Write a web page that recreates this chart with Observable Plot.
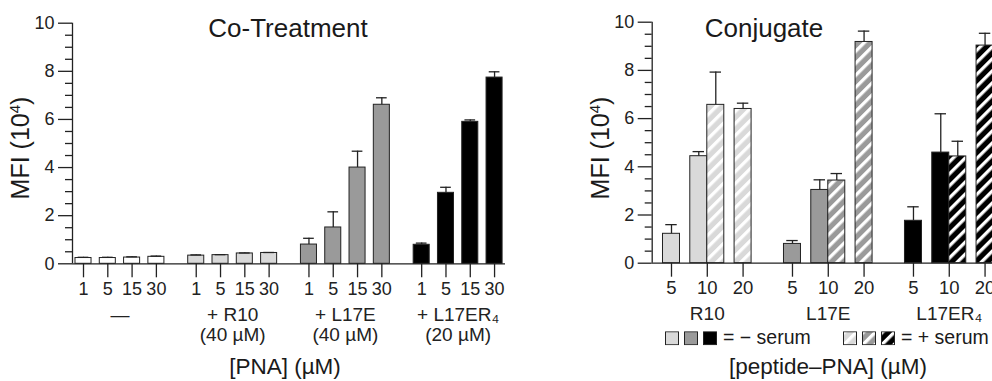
<!DOCTYPE html>
<html><head><meta charset="utf-8">
<script src="https://cdn.jsdelivr.net/npm/d3@7"></script>
<script src="https://cdn.jsdelivr.net/npm/@observablehq/plot@0.6"></script>
<style>
html,body{margin:0;padding:0;background:#fff;}
#wrap{position:relative;width:992px;height:381px;overflow:hidden;font-family:"Liberation Sans",Arial,Helvetica,sans-serif;color:#1a1a1a;}
.abs{position:absolute;white-space:nowrap;line-height:1;}
.title{font-size:26px;transform:translate(-50%,-50%);}
.xt{font-size:22.5px;transform:translate(-50%,-50%);}
.yt{font-size:25px;transform:translate(-50%,-50%) rotate(-90deg);}
.yt sup{font-size:15px;line-height:0;vertical-align:9px;}
.leg{display:flex;align-items:center;font-size:19.5px;transform:translateY(-50%);}
.leg svg{margin-right:5px;display:block;}
.leg span{margin-left:1px;}
.plot{position:absolute;top:0;}
</style>
</head><body>
<div id="wrap"></div>
<script>
// ---------- data: Co-Treatment ----------
const coGroups = ["—", "+ R10\n(40 µM)", "+ L17E\n(40 µM)", "+ L17ER₄\n(20 µM)"];
const coDoses = ["1", "5", "15", "30"];
const coMeans = [
  [0.24, 0.24, 0.26, 0.29],
  [0.34, 0.36, 0.43, 0.45],
  [0.80, 1.51, 4.00, 6.61],
  [0.79, 2.95, 5.90, 7.74]
];
const coUpper = [
  [0.27, 0.27, 0.29, 0.32],
  [0.37, 0.38, 0.45, 0.47],
  [1.06, 2.16, 4.68, 6.90],
  [0.86, 3.18, 5.98, 7.98]
];
// ---------- data: Conjugate ----------
const cjGroups = ["R10", "L17E", "L17ER₄"];
const cjDoses = ["5", "10", "20"];
const cjMinus = [[1.22, 4.44, null], [0.80, 3.04, null], [1.76, 4.59, null]];
const cjMinusUp = [[1.60, 4.63, null], [0.94, 3.46, null], [2.34, 6.20, null]];
const cjPlus = [[null, 6.57, 6.40], [null, 3.43, 9.18], [null, 4.43, 9.03]];
const cjPlusUp = [[null, 7.93, 6.64], [null, 3.72, 9.63], [null, 5.06, 9.54]];
const yTicks = [0, 2, 4, 6, 8, 10];

// ---------- styles ----------
const coFill = ["#ffffff", "#d9d9d9", "#9a9a9a", "#000000"];
const cjFill = ["#d9d9d9", "#9a9a9a", "#000000"];
const INK = "#222";
const FONT = "'Liberation Sans', Arial, Helvetica, sans-serif";

// hatch patterns
const NS = "http://www.w3.org/2000/svg";
const defsSvg = document.createElementNS(NS, "svg");
defsSvg.setAttribute("width", 0); defsSvg.setAttribute("height", 0);
defsSvg.style.position = "absolute";
const defs = document.createElementNS(NS, "defs");
cjFill.forEach((c, i) => {
  const p = document.createElementNS(NS, "pattern");
  p.setAttribute("id", "hatch" + i);
  p.setAttribute("patternUnits", "userSpaceOnUse");
  p.setAttribute("width", 8.5); p.setAttribute("height", 8.5);
  p.setAttribute("patternTransform", "rotate(45)");
  const r1 = document.createElementNS(NS, "rect");
  r1.setAttribute("width", 8.5); r1.setAttribute("height", 8.5); r1.setAttribute("fill", c);
  const r2 = document.createElementNS(NS, "rect");
  r2.setAttribute("width", 3.3); r2.setAttribute("height", 8.5); r2.setAttribute("fill", "#fff");
  p.appendChild(r1); p.appendChild(r2); defs.appendChild(p);
});
defsSvg.appendChild(defs);
document.body.appendChild(defsSvg);

const wrap = document.getElementById("wrap");
const minor = d3.range(0.5, 10, 0.5).filter(v => v % 2 !== 0);

function yAxes() {
  return [
    Plot.axisY(yTicks, {tickSize: 14, tickPadding: 4, fontSize: 18, label: null, stroke: INK, strokeWidth: 1.3, fill: INK}),
    Plot.axisY(minor, {tickSize: 7, tickFormat: () => "", label: null, stroke: INK, strokeWidth: 1.3})
  ];
}

// ---------- left panel ----------
const GAP1 = 4.64;
const coRows = coGroups.flatMap((g, gi) => coDoses.map((d, di) => ({
  pos: gi * GAP1 + di, dose: d, value: coMeans[gi][di], err: coUpper[gi][di], fill: coFill[gi]
})));
const coLabel = new Map(coRows.map(r => [r.pos, r.dose]));
const xL0 = -0.453;
const left = Plot.plot({
  width: 520, height: 381,
  marginLeft: 72, marginRight: 15, marginTop: 22.7, marginBottom: 117.7,
  x: {domain: [xL0, 17.37], axis: null},
  y: {domain: [0, 10], axis: null},
  color: {type: "identity"},
  style: {fontFamily: FONT, color: INK, background: "transparent", overflow: "visible"},
  marks: [
    Plot.rectY(coRows, {x1: d => d.pos - 0.33, x2: d => d.pos + 0.33, y1: 0, y2: "value", fill: "fill", stroke: INK, strokeWidth: 1}),
    Plot.ruleX(coRows, {x: "pos", y1: "value", y2: "err", stroke: INK, strokeWidth: 1.3}),
    Plot.ruleY(coRows, {y: "err", x1: d => d.pos - 0.22, x2: d => d.pos + 0.22, stroke: INK, strokeWidth: 1.3}),
    ...yAxes(),
    Plot.ruleY([0], {stroke: INK, strokeWidth: 1.3}),
    Plot.ruleX([xL0], {stroke: INK, strokeWidth: 1.3}),
    Plot.axisX(coRows.map(r => r.pos), {tickSize: 14, tickPadding: 4, fontSize: 18, tickFormat: d => coLabel.get(d), label: null, stroke: INK, strokeWidth: 1.3, fill: INK}),
    Plot.text(coGroups, {x: (d, i) => i * GAP1 + 1.5, y: 0, dy: 43, lineAnchor: "top", text: d => d, fontSize: 19, lineHeight: 1.05, fill: INK})
  ]
});
left.classList.add("plot");
left.style.left = "0px";
wrap.appendChild(left);

// ---------- right panel ----------
const GAP2 = 3.38;
const W2 = 0.475;
const cjRows = [];
cjGroups.forEach((g, gi) => cjDoses.forEach((d, di) => {
  const m = cjMinus[gi][di], p = cjPlus[gi][di];
  const both = m != null && p != null;
  const pos = gi * GAP2 + di;
  if (m != null) {
    const x1 = both ? pos - W2 : pos - W2 / 2;
    cjRows.push({x1, x2: x1 + W2, c: x1 + W2 / 2, value: m, err: cjMinusUp[gi][di], fill: cjFill[gi]});
  }
  if (p != null) {
    const x1 = both ? pos : pos - W2 / 2;
    cjRows.push({x1, x2: x1 + W2, c: x1 + W2 / 2, value: p, err: cjPlusUp[gi][di], fill: `url(#hatch${gi})`});
  }
}));
const cjTicks = cjGroups.flatMap((g, gi) => cjDoses.map((d, di) => ({pos: gi * GAP2 + di, dose: d})));
const cjLabel = new Map(cjTicks.map(t => [t.pos, t.dose]));
const xR0 = -0.539;
const right = Plot.plot({
  width: 440, height: 381,
  marginLeft: 71.7, marginRight: 0, marginTop: 21.7, marginBottom: 118.3,
  x: {domain: [xR0, 9.75], axis: null},
  y: {domain: [0, 10], axis: null},
  color: {type: "identity"},
  style: {fontFamily: FONT, color: INK, background: "transparent", overflow: "visible"},
  marks: [
    Plot.rectY(cjRows, {x1: "x1", x2: "x2", y1: 0, y2: "value", fill: "fill", stroke: INK, strokeWidth: 1}),
    Plot.ruleX(cjRows, {x: "c", y1: "value", y2: "err", stroke: INK, strokeWidth: 1.3}),
    Plot.ruleY(cjRows, {y: "err", x1: d => d.c - 0.16, x2: d => d.c + 0.16, stroke: INK, strokeWidth: 1.3}),
    ...yAxes(),
    Plot.ruleY([0], {stroke: INK, strokeWidth: 1.3}),
    Plot.ruleX([xR0], {stroke: INK, strokeWidth: 1.3}),
    Plot.axisX(cjTicks.map(t => t.pos), {tickSize: 14, tickPadding: 4, fontSize: 18.5, tickFormat: d => cjLabel.get(d), label: null, stroke: INK, strokeWidth: 1.3, fill: INK}),
    Plot.text(cjGroups, {x: (d, i) => i * GAP2 + 1, y: 0, dy: 43.5, lineAnchor: "top", text: d => d, fontSize: 19, fill: INK})
  ]
});
right.classList.add("plot");
right.style.left = "580px";
wrap.appendChild(right);

// ---------- titles & labels ----------
function addDiv(cls, html, x, y) {
  const el = document.createElement("div");
  el.className = "abs " + cls;
  el.innerHTML = html;
  el.style.left = x + "px"; el.style.top = y + "px";
  wrap.appendChild(el);
  return el;
}
addDiv("title", "Co-Treatment", 288, 28);
addDiv("title", "Conjugate", 764, 28);
addDiv("yt", "MFI (10<sup>4</sup>)", 20, 148);
addDiv("yt", "MFI (10<sup>4</sup>)", 600, 148);
addDiv("xt", "[PNA] (µM)", 285, 367);
addDiv("xt", "[peptide–PNA] (µM)", 828, 367);

// legend
function swatch(fill) {
  return `<svg width="14" height="14"><rect x="0.5" y="0.5" width="13" height="13" fill="${fill}" stroke="${INK}" stroke-width="1"/></svg>`;
}
addDiv("leg", cjFill.map(swatch).join("") + "<span>= − serum</span>", 665, 338);
addDiv("leg", cjFill.map((c, i) => swatch(`url(#hatch${i})`)).join("") + "<span>= + serum</span>", 843, 338);
</script>
</body></html>
